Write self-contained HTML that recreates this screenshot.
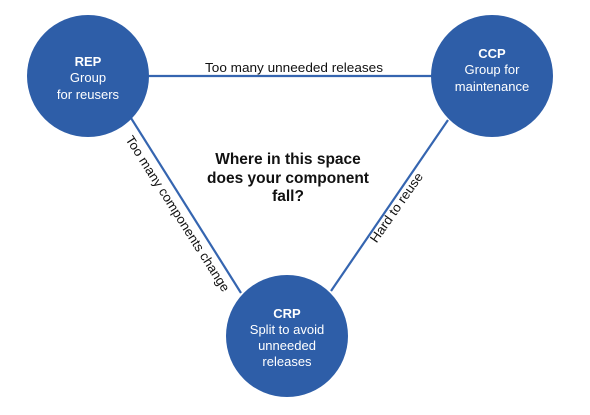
<!DOCTYPE html>
<html><head><meta charset="utf-8"><style>
html,body{margin:0;padding:0;background:#fff;}
</style></head><body>
<svg width="590" height="410" viewBox="0 0 590 410" xmlns="http://www.w3.org/2000/svg" font-family="Liberation Sans, sans-serif">
<line x1="140" y1="76" x2="440" y2="76" stroke="#3565b0" stroke-width="2.2"/>
<line x1="131" y1="118" x2="241" y2="293" stroke="#3565b0" stroke-width="2.2"/>
<line x1="448" y1="120" x2="331" y2="291" stroke="#3565b0" stroke-width="2.2"/>
<circle cx="88" cy="76" r="61" fill="#2e5ea8"/>
<circle cx="492" cy="76" r="61" fill="#2e5ea8"/>
<circle cx="287" cy="336" r="61" fill="#2e5ea8"/>
<g fill="#fff" font-size="13" text-anchor="middle">
<text x="88" y="66" font-weight="bold">REP</text>
<text x="88" y="82">Group</text>
<text x="88" y="99">for reusers</text>
<text x="492" y="58" font-weight="bold">CCP</text>
<text x="492" y="74">Group for</text>
<text x="492" y="91">maintenance</text>
<text x="287" y="318" font-weight="bold">CRP</text>
<text x="287" y="334">Split to avoid</text>
<text x="287" y="350">unneeded</text>
<text x="287" y="366">releases</text>
</g>
<g fill="#111" font-size="13" text-anchor="middle">
<text x="294" y="72" textLength="178" lengthAdjust="spacingAndGlyphs">Too many unneeded releases</text>
<text transform="translate(174,216) rotate(57.5)" textLength="182" lengthAdjust="spacingAndGlyphs">Too many components change</text>
<text transform="translate(400,210) rotate(-55)" textLength="82" lengthAdjust="spacingAndGlyphs">Hard to reuse</text>
</g>
<g fill="#111" font-size="15.5" font-weight="bold" text-anchor="middle">
<text x="288" y="164">Where in this space</text>
<text x="288" y="183">does your component</text>
<text x="288" y="201">fall?</text>
</g>
</svg>
</body></html>
